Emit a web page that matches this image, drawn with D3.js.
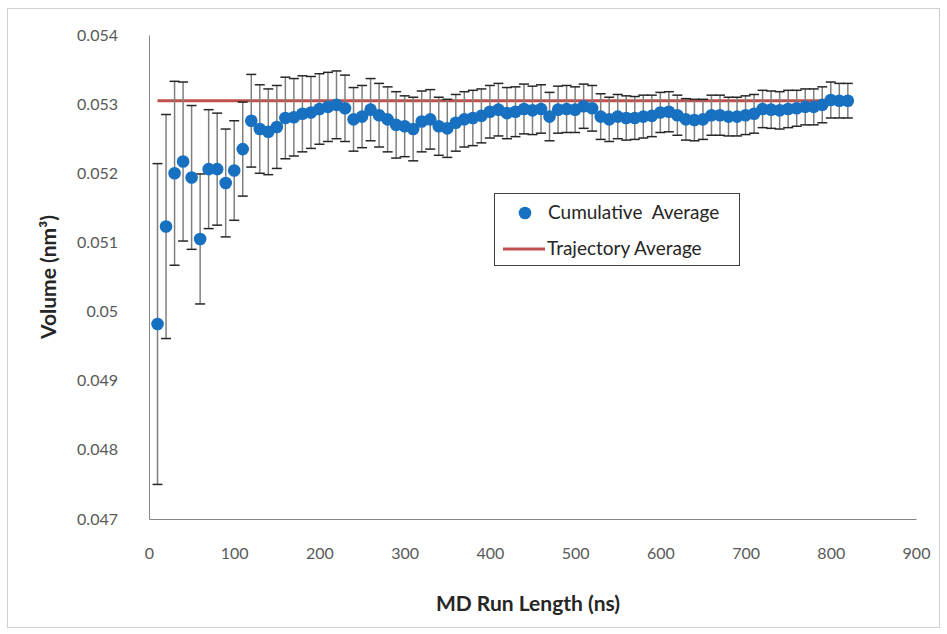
<!DOCTYPE html>
<html>
<head>
<meta charset="utf-8">
<script src="https://cdn.jsdelivr.net/npm/d3@7"></script>
<style>
  body { margin: 0; background: #fff; }
  svg { display: block; font-family: Lato, "Open Sans", sans-serif; }
</style>
</head>
<body>
<svg width="947" height="634"></svg>
<script>
// run length (ns)
const runLength = d3.range(10, 830, 10);
const cumulativeAvg = [
  0.04982, 0.05123, 0.05200, 0.05217, 0.05194, 0.05105, 0.05206, 0.05206, 0.05186, 0.05204,
  0.05235, 0.05276, 0.05264, 0.05260, 0.05267, 0.05280, 0.05281, 0.05286, 0.05288, 0.05293,
  0.05296, 0.05299, 0.05294, 0.05278, 0.05282, 0.05292, 0.05284, 0.05278, 0.05270, 0.05268,
  0.05264, 0.05275, 0.05278, 0.05268, 0.05265, 0.05273, 0.05278, 0.05280, 0.05283, 0.05289,
  0.05292, 0.05287, 0.05289, 0.05293, 0.05291, 0.05293, 0.05282, 0.05292, 0.05293, 0.05292,
  0.05297, 0.05294, 0.05282, 0.05278, 0.05282, 0.05280, 0.05280, 0.05282, 0.05283, 0.05288,
  0.05289, 0.05284, 0.05278, 0.05277, 0.05278, 0.05284, 0.05284, 0.05282, 0.05282, 0.05284,
  0.05286, 0.05293, 0.05292, 0.05291, 0.05293, 0.05294, 0.05296, 0.05296, 0.05299, 0.05306,
  0.05305, 0.05305
];
const errorBar = [
  0.00232, 0.00162, 0.00133, 0.00115, 0.00104, 0.00094, 0.00086, 0.00081, 0.00078, 0.00072,
  0.00068, 0.00067, 0.00064, 0.00062, 0.00060, 0.00059, 0.00056, 0.00055, 0.00052, 0.00051,
  0.00050, 0.00049, 0.00048, 0.00046, 0.00045, 0.00045, 0.00046, 0.00047, 0.00048, 0.00044,
  0.00046, 0.00044, 0.00043, 0.00042, 0.00042, 0.00041, 0.00040, 0.00040, 0.00039, 0.00038,
  0.00038, 0.00037, 0.00036, 0.00036, 0.00035, 0.00035, 0.00035, 0.00034, 0.00034, 0.00033,
  0.00032, 0.00033, 0.00033, 0.00032, 0.00032, 0.00032, 0.00031, 0.00031, 0.00030, 0.00029,
  0.00029, 0.00029, 0.00030, 0.00030, 0.00029, 0.00029, 0.00029, 0.00028, 0.00028, 0.00028,
  0.00028, 0.00027, 0.00027, 0.00027, 0.00027, 0.00026, 0.00026, 0.00026, 0.00026, 0.00026,
  0.00025, 0.00025
];
const trajectoryAvg = 0.05305;
const xTicks = [0, 100, 200, 300, 400, 500, 600, 700, 800, 900];
const yTicks = [0.047, 0.048, 0.049, 0.05, 0.051, 0.052, 0.053, 0.054];

const data = runLength.map((t, i) => ({ t, v: cumulativeAvg[i], e: errorBar[i] }));

const svg = d3.select("svg");
const margin = { top: 35, right: 31, bottom: 115, left: 149 };
const width = 947 - margin.left - margin.right;
const height = 634 - margin.top - margin.bottom;

// outer frame
svg.append("rect")
  .attr("x", 7.5).attr("y", 8.5)
  .attr("width", 932).attr("height", 619)
  .attr("fill", "none")
  .attr("stroke", "#d0d0d0");

const chart = svg.append("g").attr("transform", `translate(${margin.left},${margin.top})`);

const x = d3.scaleLinear().domain([0, 900]).range([0, width]);
const y = d3.scaleLinear().domain([0.047, 0.054]).range([height, 0]);

// X axis
const xAxis = chart.append("g")
  .attr("transform", `translate(0,${height})`)
  .call(d3.axisBottom(x).tickValues(xTicks).tickSize(0).tickPadding(29).tickFormat(d3.format("d")))
  .attr("font-family", null);
xAxis.select(".domain").attr("stroke", "#868686");
xAxis.selectAll("text").attr("fill", "#595959").attr("font-size", "16px");

// Y axis
const yAxis = chart.append("g")
  .call(d3.axisLeft(y).tickValues(yTicks).tickSize(0).tickPadding(31).tickFormat(d => String(+d.toFixed(3))))
  .attr("font-family", null);
yAxis.select(".domain").attr("stroke", "#868686");
yAxis.selectAll("text").attr("fill", "#595959").attr("font-size", "16px");

// trajectory average line
chart.append("line")
  .attr("x1", x(10)).attr("x2", x(820))
  .attr("y1", y(trajectoryAvg)).attr("y2", y(trajectoryAvg))
  .attr("stroke", "#c0504d")
  .attr("stroke-width", 3);

// error bars
const eb = chart.append("g").selectAll("g")
  .data(data)
  .enter()
  .append("g");

eb.append("line")
  .attr("x1", d => x(d.t)).attr("x2", d => x(d.t))
  .attr("y1", d => y(d.v + d.e)).attr("y2", d => y(d.v - d.e))
  .attr("stroke", "#7f7f7f")
  .attr("stroke-width", 1.5);

[1, -1].forEach(s => {
  eb.append("line")
    .attr("x1", d => x(d.t) - 5).attr("x2", d => x(d.t) + 5)
    .attr("y1", d => y(d.v + s * d.e)).attr("y2", d => y(d.v + s * d.e))
    .attr("stroke", "#262626")
    .attr("stroke-width", 1.5);
});

// cumulative average points
chart.append("g").selectAll("circle")
  .data(data)
  .enter()
  .append("circle")
  .attr("cx", d => x(d.t))
  .attr("cy", d => y(d.v))
  .attr("r", 6.3)
  .attr("fill", "#1870c1");

// Axis titles
svg.append("text")
  .attr("x", 528)
  .attr("y", 611)
  .attr("text-anchor", "middle")
  .attr("font-size", "21px")
  .attr("font-weight", "bold")
  .attr("fill", "#262626")
  .text("MD Run Length (ns)");

svg.append("text")
  .attr("transform", "translate(56,277) rotate(-90)")
  .attr("text-anchor", "middle")
  .attr("font-size", "21px")
  .attr("font-weight", "bold")
  .attr("fill", "#262626")
  .text("Volume (nm³)");

// Legend
const legend = svg.append("g").attr("transform", "translate(494,193)");
legend.append("rect")
  .attr("x", 0.5).attr("y", 0.5)
  .attr("width", 245).attr("height", 72)
  .attr("fill", "#fff")
  .attr("stroke", "#404040");

legend.append("circle")
  .attr("cx", 31).attr("cy", 20)
  .attr("r", 6.3)
  .attr("fill", "#1870c1");
legend.append("text")
  .attr("x", 54).attr("y", 26)
  .attr("font-size", "19px")
  .attr("fill", "#262626")
  .attr("word-spacing", "5px")
  .text("Cumulative Average");

legend.append("line")
  .attr("x1", 9).attr("x2", 51)
  .attr("y1", 56).attr("y2", 56)
  .attr("stroke", "#c0504d")
  .attr("stroke-width", 3);
legend.append("text")
  .attr("x", 53).attr("y", 62)
  .attr("font-size", "19px")
  .attr("fill", "#262626")
  .text("Trajectory Average");
</script>
</body>
</html>
